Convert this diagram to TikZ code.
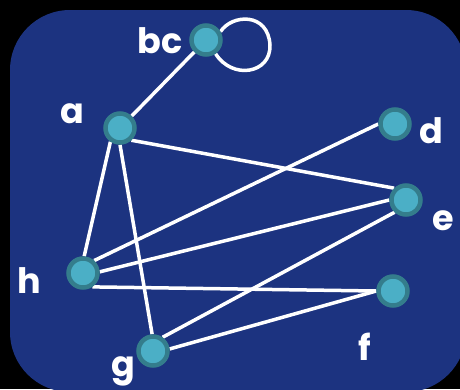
\documentclass[tikz,border=0pt]{standalone}
\usepackage{fontspec}
\setmainfont{Poppins}
\pgfdeclarelayer{back}
\pgfdeclarelayer{bg}
\pgfsetlayers{back,bg,main}
\definecolor{panel}{RGB}{28,51,128}
\definecolor{nodefill}{RGB}{75,175,198}
\definecolor{nodeedge}{RGB}{52,125,140}
\begin{document}
\begin{tikzpicture}[x=1pt,y=-1pt,
  vert/.style={circle,fill=nodefill,draw=nodeedge,line width=4.5pt,minimum size=29pt,inner sep=0pt},
  lab/.style={text=white,anchor=base,font=\fontsize{35}{35}\selectfont\bfseries,inner sep=0pt},
  edge/.style={draw=white,line width=3.5pt}]
\begin{pgfonlayer}{back}
\fill[black] (0,0) rectangle (460,389);
\begin{scope}
\clip (0,0) rectangle (460,389);
\fill[panel,rounded corners=60pt] (10,10) rectangle (466,392);
\end{scope}
\end{pgfonlayer}
\useasboundingbox (0,0) rectangle (460,389);
\node[vert] (bc) at (206,40) {};
\node[vert] (a) at (120,128) {};
\node[vert] (d) at (395,124) {};
\node[vert] (e) at (406,200) {};
\node[vert] (h) at (83,273) {};
\node[vert] (f) at (393,291) {};
\node[vert] (g) at (153,351) {};
\node[lab] (lbc) at (160,53) {bc};
\node[lab] (la) at (72,123) {a};
\node[lab] (ld) at (431,143) {d};
\node[lab] (le) at (443,230) {e};
\node[lab] (lh) at (29,293) {h};
\node[lab] (lf) at (365,360) {f};
\node[lab] (lg) at (123,376) {g};
\coordinate (loopr) at (270,45);
\begin{pgfonlayer}{bg}
\draw[edge] (bc) -- (a);
\draw[edge] (bc.30) .. controls (232,14) and (268,12) .. (loopr) .. controls (271,74) and (232,80) .. (bc.-55);
\draw[edge] (a.-47) -- (e.135);
\draw[edge] (a.-125) -- (h.86);
\draw[edge] (a.-90) -- (g.93);
\draw[edge] (h.48) -- (d.180);
\draw[edge] (h.4) -- (e.180);
\draw[edge] (h.-56) -- (f.180);
\draw[edge] (g.55) -- (e.-133);
\draw[edge] (g.7) -- (f.180);
\end{pgfonlayer}
\end{tikzpicture}
\end{document}
